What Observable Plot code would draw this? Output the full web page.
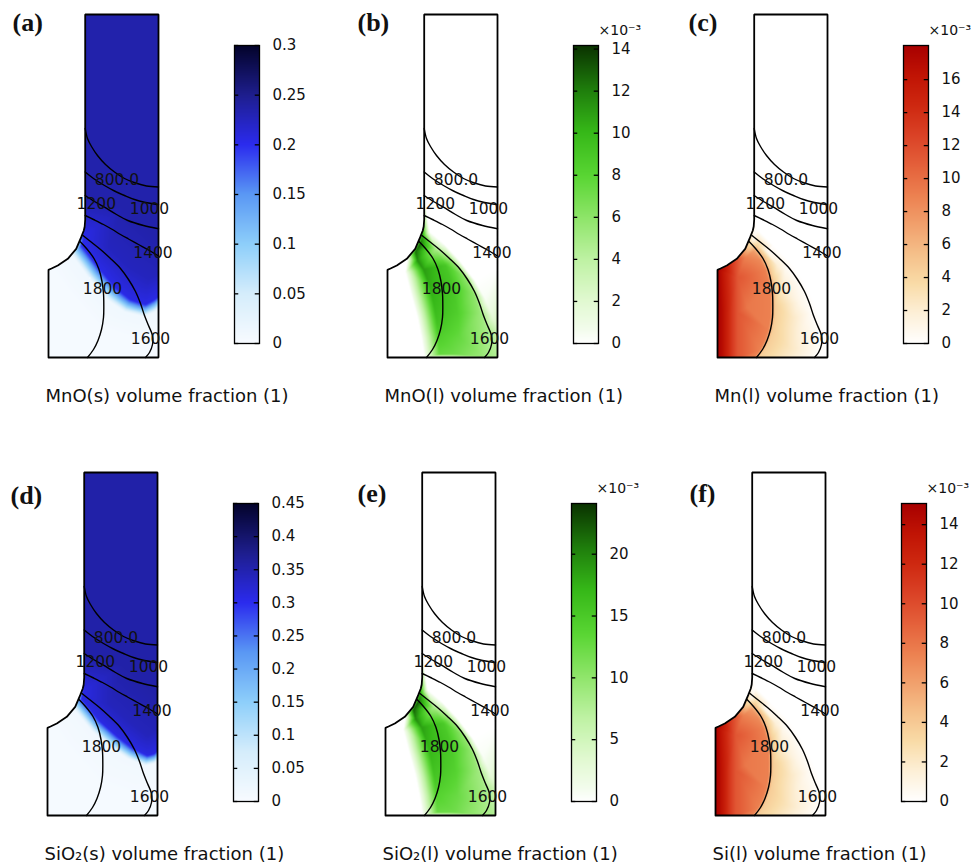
<!DOCTYPE html>
<html><head><meta charset="utf-8">
<script src="https://cdn.jsdelivr.net/npm/d3@7"></script>
<script src="https://cdn.jsdelivr.net/npm/@observablehq/plot@0.6"></script>
<style>
body{margin:0;background:#fff;}
#fig{position:relative;width:972px;height:867px;overflow:hidden;background:#fff;}
#fig > div{position:absolute;}
#fig svg{overflow:visible;max-width:none !important;display:block;}
</style></head><body><div id="fig"></div>
<script>
// ---------- geometry (model units: x 0..110, y 0..343) ----------
const outline = [[0,0],[110,0],[110,343],[36.7,343],[36.7,138],[36.2,131],[35.3,127],[32.7,120.3],[27.7,108.7],[19.3,98.7],[9.3,92],[3,89],[0,87.7],[0,0]];
const notch = [[-3,87.7],[0,87.7],[3,89],[9.3,92],[19.3,98.7],[27.7,108.7],[32.7,120.3],[35.3,127],[36.2,131],[36.7,138],[36.7,346],[-3,346]];

// ---------- temperature contours (same in every panel) ----------
const iso800  = [[36.7,229],[39,219],[43,211],[49,202],[57,193],[66,185.5],[76,179],[87,174.5],[98,171.5],[110,170.5]];
const iso1000 = [[36.7,185.5],[45,179],[56,172],[66,166.5],[76,162],[86,158],[96,155.3],[110,153]];
const iso1200 = [[36.7,162],[46,156],[56,150.3],[68,143],[79.3,137],[95,132],[110,128.7]];
const iso1400 = [[36.7,142],[45,138],[55,133],[63,128.5],[72,123],[80,118.5],[90,113],[100,107.5],[110,101.5]];
const iso1600 = [[34.5,122],[42,116],[52,108],[62,99],[72,89],[80,78],[87,66],[92,54],[96,42],[100,32],[104,22],[104,13],[101,5],[97,0]];
const iso1800 = [[31.5,116],[38,109],[45.5,99],[50.5,88],[53.5,76],[55,64],[55.3,52],[55,40],[53,28],[49.5,17],[45,8],[39,0]];
const isoLabels = ["800.0","1200","1000","1400","1800","1600"];
const isoLabelX = [68.5,47.8,101,104.5,54,102];
const isoLabelY = [177,153.7,148.7,104.7,68.7,18.7];

// ---------- field samples [x, y, value] ----------
const mnoSolid = [
 [36.7,343,.235],[110,343,.235],[36.7,230,.235],[110,230,.235],[36.7,160,.235],[75,150,.235],[110,120,.235],
 [60,110,.225],[80,90,.225],[100,78,.225],[110,85,.228],
 [33,112,.2],[36,122,.205],[51,89,.205],[67,70,.205],[82,58,.205],[97,53,.205],[106,58,.205],[110,61,.205],
 [24,102,.012],[41,79,.012],[59,58,.012],[76,46,.012],[96,41,.012],[107,46,.012],[110,49,.012],
 [0,0,.004],[110,0,.004],[0,87.7,.004],[10,92,.006],[20,70,.005],[50,30,.004],[80,20,.004],[110,25,.005],[30,0,.004],[70,0,.004]
];
const sio2Solid = [
 [36.7,343,.355],[110,343,.355],[36.7,230,.355],[110,230,.355],[36.7,160,.355],[75,150,.355],[110,120,.355],
 [62,112,.34],[82,94,.34],[100,80,.34],[110,88,.345],
 [34,117,.31],[36,124,.31],[52,95,.31],[70,79,.31],[86,67,.31],[100,60,.31],[107,62,.31],[110,65,.31],
 [26,107,.015],[44,85,.015],[62,69,.015],[80,57,.015],[98,50,.015],[107,52,.015],[110,55,.015],
 [0,0,.006],[110,0,.006],[0,87.7,.006],[10,92,.008],[20,70,.007],[50,30,.006],[80,20,.006],[110,25,.007],[30,0,.006],[70,0,.006]
];
const mnoLiquid = [ // x10^-3
 [36.7,343,0],[110,343,0],[36.7,160,0],[110,160,0],[110,90,0],
 [42,126,0],[56,114,0],[72,97,0],[88,76,0],[98,58,.4],[105,42,1.5],[110,28,3],[110,12,4],[110,0,4.5],
 [0,0,0],[0,87.7,0],[10,92,0],[10,50,0],[20,99,0],[18,85,0],[24,62,0],[30,40,0],[34,20,0],[37,0,0],
 [28,106,12.5],[32,113,13],[35,120,11],[30,97,11.5],[36,88,11],[42,72,10.5],[46,55,10],[49,38,9.5],[51,20,8.5],[52,3,7.5],
 [58,92,9],[66,70,9],[70,45,8.5],[72,20,7.5],[70,3,7],
 [48,108,5],[64,96,6],[78,80,6],[86,64,6],[93,44,5.5],[99,28,5],[100,10,5],[95,2,5.5]
];
const sio2Liquid = [ // x10^-3
 [36.7,343,0],[110,343,0],[36.7,160,0],[110,160,0],[110,90,0],
 [42,126,0],[56,114,0],[72,97,0],[88,76,0],[98,58,.6],[105,42,2.2],[110,28,5],[110,12,6.5],[110,0,7.5],
 [0,0,0],[0,87.7,0],[10,92,0],[10,50,0],[20,99,0],[18,85,0],[24,62,0],[30,40,0],[34,20,0],[37,0,0],
 [28,106,22],[32,113,22.5],[35,120,19],[30,97,20],[36,88,18.5],[42,72,17.5],[46,55,16.5],[49,38,15.5],[51,20,14],[52,3,12.5],
 [58,92,15],[66,70,15],[70,45,14],[72,20,12.5],[70,3,12],
 [48,108,8.5],[64,96,10],[78,80,10],[86,64,10],[93,44,9],[99,28,8.5],[100,10,8.5],[95,2,9]
];
const mnLiquid = [ // x10^-3
 [36.7,343,0],[110,343,0],[36.7,150,0],[110,150,0],[110,60,0],
 [40,128,0],[56,112,0],[74,94,0],[86,76,0],[95,58,0],[103,40,0],[108,22,0],[110,8,0],[110,0,0],[104,0,0],
 [36,118,1],[50,106,.8],[68,90,.6],[80,76,.5],[88,60,.5],[94,44,.4],[99,28,.4],[100,12,.5],[95,2,.6],
 [66,70,2],[60,92,1.8],[75,40,2.5],[72,10,2.7],[82,55,1],[85,30,1.3],[86,8,1.5],
 [40,112,4],[48,101,4.5],[53,89,4.5],[56,77,4.5],[57.5,64,4.5],[57.8,52,4.5],[57.5,40,4.5],[55.5,28,4.5],[52,17,4.5],[47.5,8,4.5],[41.5,0,4.5],
 [36,106,7.5],[43,97,8.5],[48,87,9],[51,76,9],[52.5,64,9],[52.8,52,9],[52.5,40,9],[50.5,28,9],[47,17,9],[42.5,8,9],[36.5,0,9],
 [30,0,9.5],[30,50,9.5],[28,100,9],
 [20,0,11.5],[20,45,11.5],[20,80,11.5],[20,98,11.5],
 [14,0,13.5],[14,45,13.5],[14,94,13.5],
 [9,0,15.5],[9,45,15.5],[9,91,15.5],
 [4,0,17.2],[4,45,17.2],[4,88.5,17.2],
 [0,0,18],[0,45,18],[0,87.7,18]
];
const siLiquid = [ // x10^-3
 [36.7,343,0],[110,343,0],[36.7,150,0],[110,150,0],[110,60,0],
 [40,128,0],[56,112,0],[74,94,0],[86,76,0],[95,58,0],[103,40,0],[108,22,0],[110,8,0],[110,0,0],[104,0,0],
 [36,118,.8],[50,106,.7],[68,90,.5],[80,76,.4],[88,60,.4],[94,44,.4],[99,28,.4],[100,12,.5],[95,2,.5],
 [66,70,1.7],[60,92,1.5],[75,40,2.1],[72,10,2.3],[82,55,.9],[85,30,1.1],[86,8,1.3],
 [40,112,3.4],[48,101,3.8],[53,89,3.8],[56,77,3.8],[57.5,64,3.8],[57.8,52,3.8],[57.5,40,3.8],[55.5,28,3.8],[52,17,3.8],[47.5,8,3.8],[41.5,0,3.8],
 [36,106,6.3],[43,97,7],[48,87,7.5],[51,76,7.5],[52.5,64,7.5],[52.8,52,7.5],[52.5,40,7.5],[50.5,28,7.5],[47,17,7.5],[42.5,8,7.5],[36.5,0,7.5],
 [30,0,7.9],[30,50,7.9],[28,100,7.5],
 [20,0,9.6],[20,45,9.6],[20,80,9.6],[20,98,9.6],
 [14,0,11.2],[14,45,11.2],[14,94,11.2],
 [9,0,12.9],[9,45,12.9],[9,91,12.9],
 [4,0,14.3],[4,45,14.3],[4,88.5,14.3],
 [0,0,15],[0,45,15],[0,87.7,15]
];

// ---------- colour bars ----------
const blueStops  = [0,.167,.333,.5,.667,.833,1];
const blueColors = ["#f8fbff","#d5edfb","#8ecffa","#5a98f4","#2b2bee","#1e1e8e","#03032a"];
const greenStops  = [0,.05,.14,.28,.42,.56,.71,.85,1];
const greenColors = ["#ffffff","#f2fceb","#e2f9d2","#bff2a4","#8fe56a","#5ad634","#36b818","#1f7e0c","#0a3200"];
const redStops  = [0,.1,.2,.3,.4,.5,.6,.7,.8,.9,1];
const redColors = ["#ffffff","#fdf0d8","#f9dca8","#f5c08a","#f1a06c","#ec8050","#e4603a","#da4226","#ce2810","#c01404","#a80000"];

const ticksA = [0,.05,.1,.15,.2,.25,.3];
const tickLabelsA = ["0","0.05","0.1","0.15","0.2","0.25","0.3"];
const ticksB = [0,2,4,6,8,10,12,14];
const ticksC = [0,2,4,6,8,10,12,14,16];
const ticksD = [0,.05,.1,.15,.2,.25,.3,.35,.4,.45];
const tickLabelsD = ["0","0.05","0.1","0.15","0.2","0.25","0.3","0.35","0.4","0.45"];
const ticksE = [0,5,10,15,20];
const ticksF = [0,2,4,6,8,10,12,14];

const panels = [
 {letter:"(a)", caption:"MnO(s) volume fraction (1)", ox:0,   oy:0,   ldx:12, ldy:22, stops:blueStops, colors:blueColors, max:.3,    ticks:ticksA, labels:tickLabelsA, exp:false, samples:mnoSolid},
 {letter:"(b)", caption:"MnO(l) volume fraction (1)", ox:339, oy:0,   ldx:18, ldy:22, stops:greenStops, colors:greenColors, max:14.17, ticks:ticksB, labels:ticksB.map(String), exp:true, samples:mnoLiquid},
 {letter:"(c)", caption:"Mn(l) volume fraction (1)",  ox:669, oy:0,   ldx:19, ldy:22, stops:redStops, colors:redColors, max:18.07, ticks:ticksC, labels:ticksC.map(String), exp:true, samples:mnLiquid},
 {letter:"(d)", caption:"SiO\u2082(s) volume fraction (1)", ox:-1, oy:458, ldx:11, ldy:37, stops:blueStops, colors:blueColors, max:.45, ticks:ticksD, labels:tickLabelsD, exp:false, samples:sio2Solid},
 {letter:"(e)", caption:"SiO\u2082(l) volume fraction (1)", ox:337, oy:458, ldx:20, ldy:35, stops:greenStops, colors:greenColors, max:24.1, ticks:ticksE, labels:ticksE.map(String), exp:true, samples:sio2Liquid},
 {letter:"(f)", caption:"Si(l) volume fraction (1)", ox:667, oy:458, ldx:22, ldy:35, stops:redStops, colors:redColors, max:15.07, ticks:ticksF, labels:ticksF.map(String), exp:true, samples:siLiquid}
];

const fig = document.getElementById("fig");
const isoSets = [iso800, iso1000, iso1200, iso1400, iso1600, iso1800];
const isoRows = isoLabels.map((t,i)=>({t, x:isoLabelX[i], y:isoLabelY[i]}));

for (const p of panels) {
  const color = {type:"linear", domain:p.stops.map(s=>s*p.max), range:p.colors, interpolate:"rgb"};
  const pts = p.samples.map(([x,y,v])=>({x,y,v}));
  const chart = Plot.plot({
    width:330, height:408, margin:0,
    x:{domain:[0,110], range:[48,158], axis:null},
    y:{domain:[0,343], range:[357,14], axis:null},
    color,
    style:{background:"transparent", fontFamily:"DejaVu Sans", overflow:"visible"},
    marks:[
      Plot.raster(pts, {x:"x", y:"y", fill:"v", interpolate:"barycentric", x1:0, x2:110, y1:0, y2:343, pixelSize:1}),
      Plot.line(notch, {x:d=>d[0], y:d=>d[1], fill:"white", stroke:"white", strokeWidth:0.5}),
      ...isoSets.map(c=>Plot.line(c, {x:d=>d[0], y:d=>d[1], stroke:"black", strokeWidth:1.4, curve:"catmull-rom"})),
      Plot.line(outline, {x:d=>d[0], y:d=>d[1], stroke:"black", strokeWidth:1.8, strokeLinejoin:"miter", curve:"linear"}),
      Plot.text(isoRows, {x:"x", y:"y", text:"t", fontSize:15.5, fill:"#111"}),
      Plot.text([p.letter], {frameAnchor:"top-left", dx:p.ldx, dy:p.ldy, lineAnchor:"middle", textAnchor:"start", fontFamily:"Liberation Serif", fontWeight:"bold", fontSize:26, fill:"#111"}),
      Plot.text([p.caption], {frameAnchor:"top-left", dx:45, dy:396, lineAnchor:"middle", textAnchor:"start", fontSize:18, fill:"#111"})
    ]
  });
  const w1 = document.createElement("div");
  w1.style.left = p.ox + "px"; w1.style.top = p.oy + "px"; w1.style.width = "330px"; w1.style.height = "408px";
  w1.appendChild(chart); fig.appendChild(w1);

  const bar = Plot.plot({
    width:110, height:360, marginLeft:0, marginRight:85, marginTop:45, marginBottom:17,
    x:{domain:[0,1], axis:null},
    y:{domain:[0,p.max], axis:null},
    color,
    style:{background:"transparent", fontFamily:"DejaVu Sans", overflow:"visible"},
    marks:[
      Plot.raster({fill:(x,y)=>y, x1:0, x2:1, y1:0, y2:p.max, pixelSize:1}),
      Plot.ruleY(p.ticks, {x1:0, x2:0.17, stroke:"black", strokeWidth:1.3}),
      Plot.ruleY(p.ticks, {x1:0.83, x2:1, stroke:"black", strokeWidth:1.3}),
      Plot.frame({stroke:"black", strokeWidth:1.3}),
      Plot.text(p.ticks, {x:1, y:d=>d, text:(d,i)=>p.labels[i], dx:13, textAnchor:"start", fontSize:15, fill:"#111"}),
      p.exp ? Plot.text(["\u00d710\u207b\u00b3"], {frameAnchor:"top-left", dx:25, dy:-15, lineAnchor:"middle", textAnchor:"start", fontSize:14, fill:"#111"}) : null
    ]
  });
  const w2 = document.createElement("div");
  w2.style.left = (p.ox + 234) + "px"; w2.style.top = p.oy + "px"; w2.style.width = "110px"; w2.style.height = "360px";
  w2.appendChild(bar); fig.appendChild(w2);
}
</script></body></html>
